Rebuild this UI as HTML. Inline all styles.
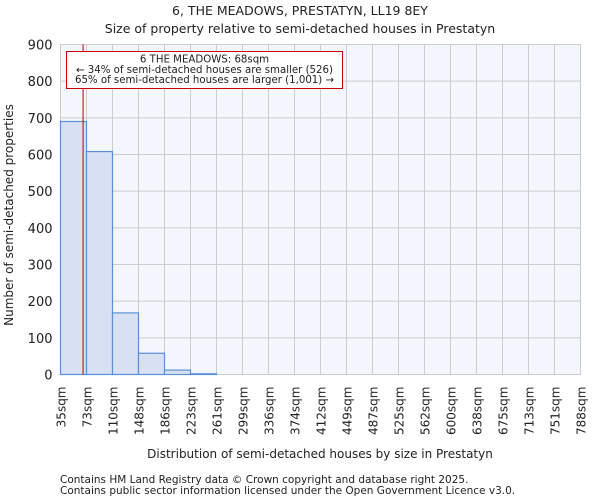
<!DOCTYPE html>
<html><head><meta charset="utf-8"><style>
body{margin:0;background:#fff;font-family:"DejaVu Sans","Liberation Sans",sans-serif}
svg text{font-family:"DejaVu Sans","Liberation Sans",sans-serif;fill:#222}
</style></head><body>
<svg id="c" width="600" height="500" xmlns="http://www.w3.org/2000/svg">
<text x="300" y="15" text-anchor="middle" font-size="12.5">6, THE MEADOWS, PRESTATYN, LL19 8EY</text>
<text x="300" y="33" text-anchor="middle" font-size="12.5">Size of property relative to semi-detached houses in Prestatyn</text>
<rect x="60.5" y="44.5" width="520" height="330" fill="#f3f6fd"/>
<g id="grid"></g><g id="bars"></g><g id="axes"></g>
<text transform="translate(13,215) rotate(-90)" text-anchor="middle" font-size="12">Number of semi-detached properties</text>
<text x="320" y="458" text-anchor="middle" font-size="12">Distribution of semi-detached houses by size in Prestatyn</text>
<text x="60" y="483" font-size="10.5">Contains HM Land Registry data © Crown copyright and database right 2025.</text>
<text x="60" y="494" font-size="10.5">Contains public sector information licensed under the Open Government Licence v3.0.</text>
</svg>
<script>
const xLabels=["35sqm","73sqm","110sqm","148sqm","186sqm","223sqm","261sqm","299sqm","336sqm","374sqm","412sqm","449sqm","487sqm","525sqm","562sqm","600sqm","638sqm","675sqm","713sqm","751sqm","788sqm"];
const binEdges=[35,73,110,148,186,223,261,299,336,374,412,449,487,525,562,600,638,675,713,751,788];
const counts=[690,608,168,58,12,2,0,0,0,0,0,0,0,0,0,0,0,0,0,0];
const yTicks=[0,100,200,300,400,500,600,700,800,900];
const markerSize=68;
const L=60.5,R=580.5,T=44.5,B=374.5,yMax=900;
const NS="http://www.w3.org/2000/svg";
const xi=i=>L+(R-L)*i/(xLabels.length-1);
const xv=v=>{for(let i=0;i<binEdges.length-1;i++){if(v<=binEdges[i+1])return xi(i)+(v-binEdges[i])/(binEdges[i+1]-binEdges[i])*(xi(i+1)-xi(i));}return R;};
const y=v=>B-(B-T)*v/yMax;
function mk(tag,attrs,parent){const e=document.createElementNS(NS,tag);for(const k in attrs)e.setAttribute(k,attrs[k]);document.getElementById(parent).appendChild(e);return e;}
yTicks.forEach(t=>{
 const g=mk('line',{x1:L,x2:R,y1:y(t),y2:y(t),stroke:'#ccc','stroke-width':1},'grid');
 
 
 const tx=mk('text',{x:L-8,y:y(t)+5,'text-anchor':'end','font-size':'13'},'axes');
 tx.textContent=t;
 
 
});
xLabels.forEach((l,i)=>{
 const g=mk('line',{x1:xi(i),x2:xi(i),y1:T,y2:B,stroke:'#ccc','stroke-width':1},'grid');
 
 
 const tx=mk('text',{transform:`translate(${xi(i)+5},${B+12}) rotate(-90)`,'text-anchor':'end','font-size':'12'},'axes');
 tx.textContent=l;
 
 
});
counts.forEach((c,i)=>{
 if(c<=0)return;
 const r=mk('rect',{x:xi(i),y:y(c),width:xi(i+1)-xi(i),height:B-y(c),fill:'#d7e1f3',stroke:'#5b8fd6','stroke-width':1.2},'bars');
 
 
});
const m=mk('line',{x1:xv(markerSize),x2:xv(markerSize),y1:T,y2:B,stroke:'#b00','stroke-width':1},'axes');


const bx=mk('rect',{x:66.5,y:51.5,width:276,height:37,fill:'#fff',stroke:'#c00','stroke-width':1},'axes');


["6 THE MEADOWS: 68sqm","← 34% of semi-detached houses are smaller (526)","65% of semi-detached houses are larger (1,001) →"].forEach((s,i)=>{
 const t=mk('text',{x:204.5,y:62.5+i*10.3,'text-anchor':'middle','font-size':'10.2'},'axes');
 t.textContent=s;
 
 
});
</script>
</body></html>
